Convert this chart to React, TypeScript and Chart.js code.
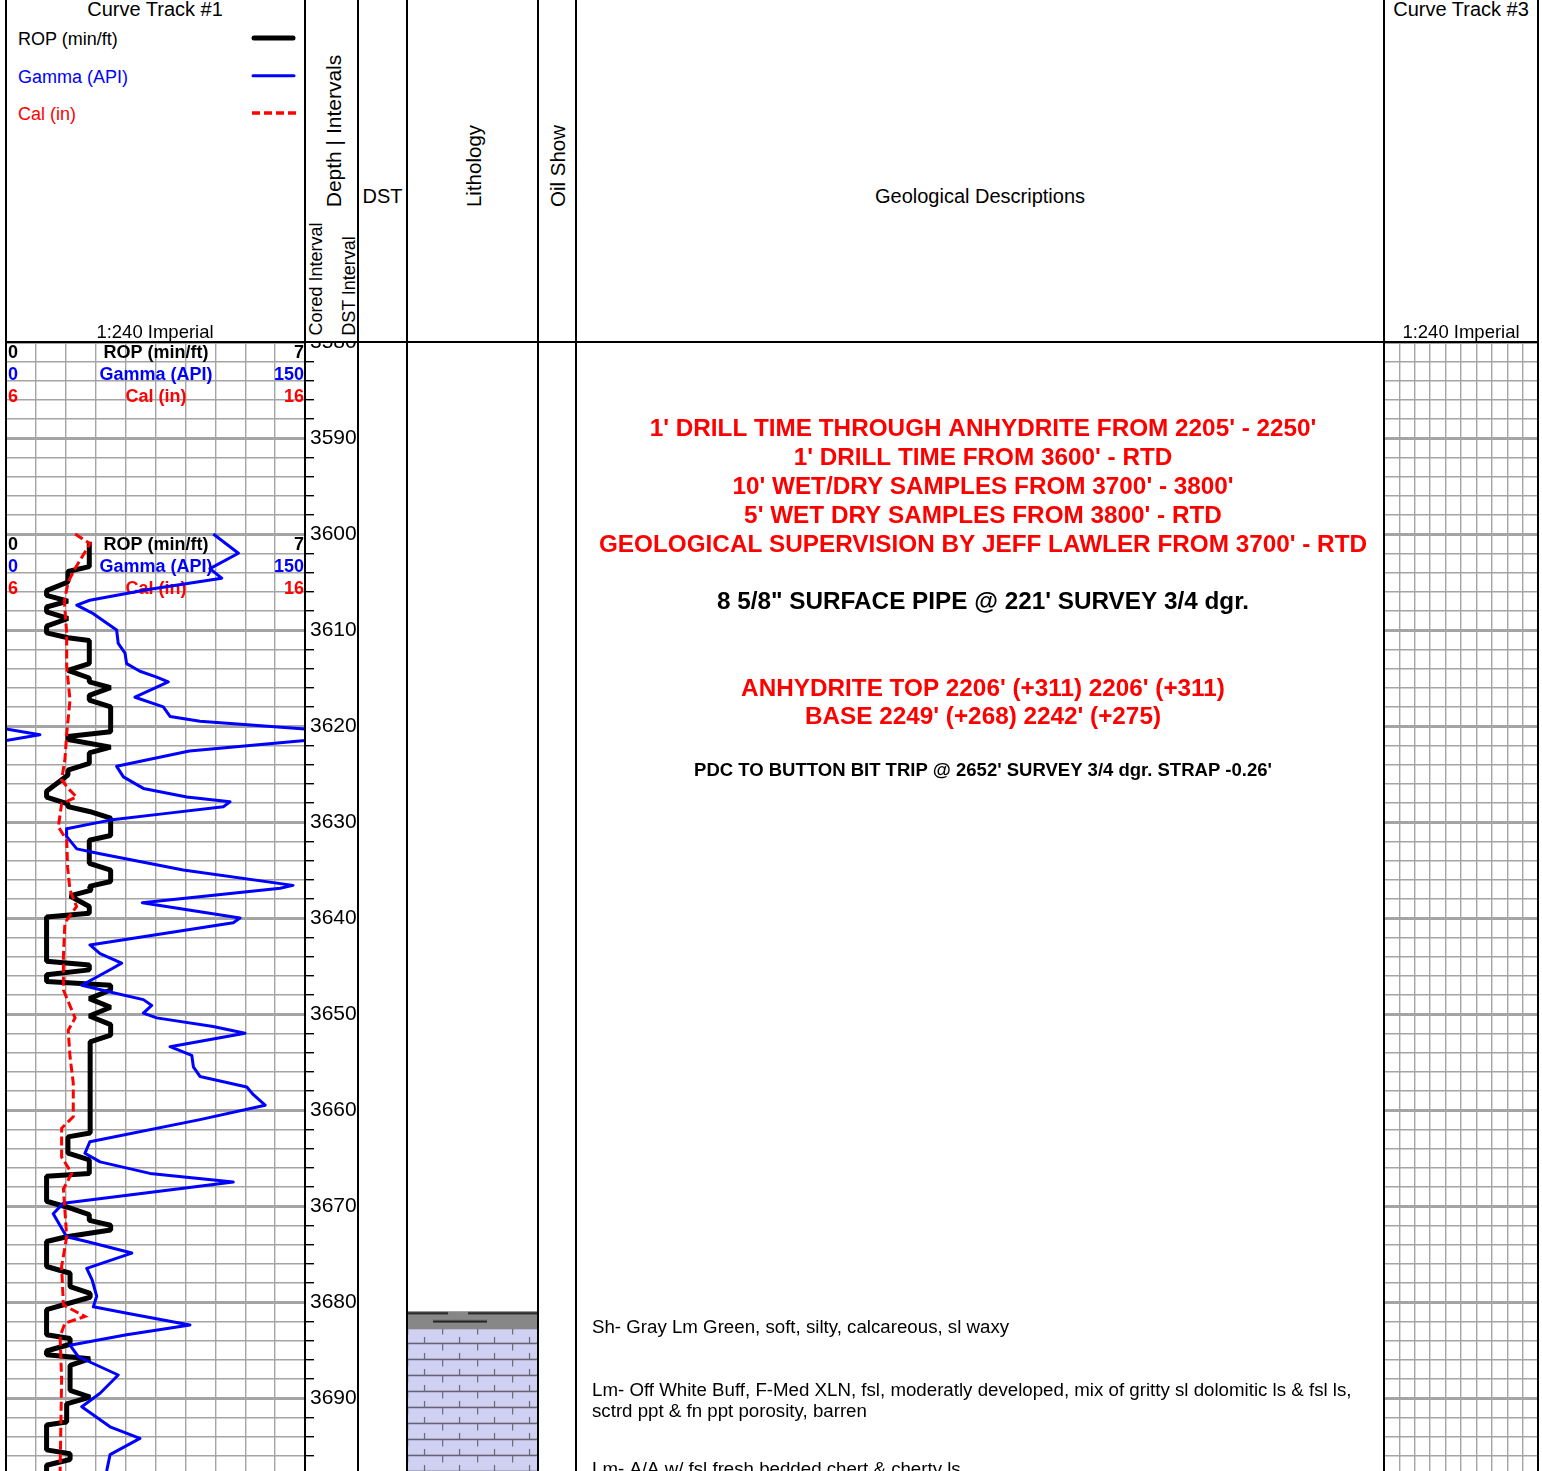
import React, { useEffect, useRef } from 'react';
import { Chart, registerables } from 'chart.js';

Chart.register(...registerables);

const FONT = '"Liberation Sans", Arial, Helvetica, sans-serif';

// ---------------- data ----------------
const depthTop = 3580;
const depthBottom = 3697.6;

const curveNames = ['ROP (min/ft)', 'Gamma (API)', 'Cal (in)'];
const curveMins = [0, 0, 6];
const curveMaxs = [7, 150, 16];
const scaleHeaderDepths = [3580, 3600];

// [depth ft, ROP min/ft]
const ropLog: number[][] = [
  [3600.8, 1.95], [3603.4, 1.95], [3603.9, 1.45], [3605.0, 1.45], [3605.9, 0.95], [3606.4, 0.95],
  [3607.0, 1.45], [3607.6, 0.95], [3608.1, 0.95], [3608.8, 1.45], [3609.6, 0.95], [3610.3, 0.95],
  [3610.8, 1.45], [3611.1, 1.95], [3613.5, 1.95], [3614.2, 1.45], [3615.0, 1.95], [3615.4, 1.95],
  [3616.0, 2.45], [3616.8, 1.95], [3617.3, 1.95], [3618.0, 2.45], [3620.6, 2.45], [3621.1, 1.45],
  [3621.4, 1.45], [3622.2, 2.45], [3622.8, 1.95], [3623.9, 1.95], [3624.6, 1.45], [3625.1, 1.45],
  [3626.8, 0.95], [3627.4, 0.95], [3628.1, 1.45], [3628.4, 1.45], [3628.9, 1.95], [3629.6, 2.45],
  [3631.4, 2.45], [3631.9, 1.95], [3634.3, 1.95], [3635.0, 2.45], [3636.2, 2.45], [3636.7, 1.95],
  [3637.1, 2.0], [3637.7, 1.5], [3638.8, 1.95], [3639.5, 1.95], [3639.9, 0.95], [3644.5, 0.95],
  [3644.9, 1.95], [3645.4, 1.95], [3645.9, 0.95], [3646.6, 0.95], [3647.0, 2.45], [3647.5, 2.45],
  [3648.4, 1.95], [3649.3, 2.45], [3650.2, 1.95], [3651.1, 2.45], [3652.2, 2.45], [3652.9, 1.97],
  [3662.4, 1.97], [3662.8, 1.45], [3664.5, 1.45], [3665.2, 1.95], [3666.6, 1.95], [3666.9, 0.95],
  [3669.5, 0.95], [3670.1, 1.42], [3670.9, 1.95], [3671.5, 1.95], [3672.0, 2.45], [3672.5, 2.45],
  [3673.2, 1.42], [3673.7, 0.95], [3676.3, 0.95], [3677.0, 1.5], [3678.4, 1.5], [3679.1, 1.97],
  [3679.5, 1.97], [3680.8, 0.95], [3683.4, 0.95], [3683.8, 1.5], [3684.4, 1.5], [3685.1, 0.95],
  [3685.5, 0.95], [3685.9, 1.97], [3686.6, 1.5], [3689.2, 1.5], [3689.9, 1.97], [3690.6, 1.42],
  [3692.5, 1.42], [3692.8, 0.95], [3695.4, 0.95], [3695.8, 1.5], [3696.4, 1.5], [3697.0, 0.95],
  [3698.0, 0.95],
];

// [depth ft, gamma API]
const gammaLog: number[][] = [
  [3600.0, 104], [3602.0, 116.6], [3603.6, 102.3], [3604.6, 108.2], [3605.8, 70.6], [3606.9, 42],
  [3607.4, 35.5], [3608.3, 43.8], [3610.0, 55.5], [3611.4, 56.3], [3612.4, 59.7], [3613.5, 60.5],
  [3614.3, 67.2], [3614.9, 75.6], [3615.4, 81.4], [3617.0, 64.7], [3618.0, 78.9], [3619.0, 82.3],
  [3619.5, 97.3], [3620.3, 150], [3620.9, 167], [3621.5, 150], [3622.6, 92], [3624.2, 55.5],
  [3625.3, 58.9], [3626.5, 68.9], [3627.4, 90.7], [3627.9, 112.4], [3628.4, 109], [3629.1, 80.6],
  [3629.8, 52.2], [3630.7, 30.4], [3631.5, 30.4], [3632.8, 35.5], [3633.3, 47.2], [3635.0, 88.9],
  [3636.6, 144], [3636.9, 137.5], [3638.4, 68.4], [3640.0, 117.4], [3640.5, 114], [3642.8, 42.1],
  [3643.7, 47.2], [3644.7, 58], [3645.2, 53.8], [3647.0, 38], [3647.7, 52.2], [3648.5, 68.9],
  [3649.1, 73.1], [3649.9, 68.9], [3650.4, 75.6], [3651.3, 103.9], [3652.0, 119.9], [3653.4, 82.3],
  [3654.3, 93.2], [3655.5, 94], [3656.5, 97.3], [3657.6, 120.8], [3658.4, 124.1], [3659.5, 130],
  [3661.0, 97.3], [3663.3, 42.1], [3664.5, 39.6], [3665.4, 47.2], [3666.6, 72.2], [3667.5, 114],
  [3669.7, 28.8], [3670.8, 23.7], [3673.2, 30.4], [3673.7, 40.5], [3674.9, 63.1], [3676.5, 40.5],
  [3677.7, 43.2], [3679.4, 45.5], [3680.5, 43.8], [3681.2, 61.4], [3682.4, 92.3], [3683.4, 60.5],
  [3684.5, 32.1], [3685.7, 36.3], [3687.6, 56.3], [3689.5, 47.2], [3690.9, 38], [3693.0, 52.2],
  [3694.2, 67.2], [3695.9, 52.2], [3697.6, 50.5],
];

// gamma excess above 150 API, wrapped back into the track
const gammaWrapLog: number[][] = [[3620.3, 0], [3620.9, 17], [3621.5, 0]];

// [depth ft, caliper in]
const calLog: number[][] = [
  [3600.0, 8.31], [3601.0, 8.81], [3603.6, 8.31], [3605.0, 8.08], [3607.0, 7.95], [3610.3, 8.03],
  [3613.8, 8.03], [3617.3, 8.14], [3620.8, 8.03], [3623.5, 7.97], [3625.6, 7.86], [3626.5, 8.08],
  [3627.4, 8.36], [3628.1, 7.86], [3630.5, 7.75], [3631.9, 8.03], [3634.7, 8.06], [3637.1, 8.14],
  [3638.8, 8.36], [3640.5, 7.97], [3644.0, 7.92], [3647.5, 7.92], [3650.4, 8.31], [3651.7, 8.08],
  [3654.4, 8.14], [3657.2, 8.25], [3660.7, 8.25], [3661.9, 7.86], [3664.9, 7.86], [3666.6, 8.2],
  [3668.2, 7.92], [3673.2, 8.03], [3676.3, 7.86], [3680.3, 7.92], [3681.5, 8.64], [3682.2, 7.97],
  [3683.6, 7.81], [3688.1, 7.86], [3697.6, 7.81],
];

const lithNames = ['Shale', 'Limestone'];
const lithTops = [3681, 3682.8];
const lithBases = [3682.8, 3700];

const remarkDepths = [3589.06, 3592.08, 3595.1, 3598.13, 3601.15, 3607.08, 3616.15, 3619.06, 3624.69];
const remarkTexts = [
  "1' DRILL TIME THROUGH ANHYDRITE FROM 2205' - 2250'",
  "1' DRILL TIME FROM 3600' - RTD",
  "10' WET/DRY SAMPLES FROM 3700' - 3800'",
  "5' WET DRY SAMPLES FROM 3800' - RTD",
  "GEOLOGICAL SUPERVISION BY JEFF LAWLER FROM 3700' - RTD",
  '8 5/8" SURFACE PIPE @ 221\' SURVEY 3/4 dgr.',
  "ANHYDRITE TOP 2206' (+311) 2206' (+311)",
  "BASE 2249' (+268) 2242' (+275)",
  "PDC TO BUTTON BIT TRIP @ 2652' SURVEY 3/4 dgr. STRAP -0.26'",
];
const remarkKinds = ['note', 'note', 'note', 'note', 'note', 'casing', 'top', 'top', 'trip'];

const descDepths = [3682.7, 3689.2, 3697.5];
const descTexts = [
  'Sh- Gray Lm Green, soft, silty, calcareous, sl waxy',
  'Lm- Off White Buff, F-Med XLN, fsl, moderatly developed, mix of gritty sl dolomitic ls & fsl ls,\nsctrd ppt & fn ppt porosity, barren',
  'Lm- A/A w/ fsl fresh bedded chert & cherty ls',
];

// ---------------- layout ----------------
const BODY_TOP = 342;
const PAD = 20;
const CANVAS_TOP = BODY_TOP - PAD;
const CANVAS_H = 1129 + PAD * 2;
const COLS = [6, 305, 358, 407, 538, 576, 1384, 1538];
const GRID = '#a4a4a4';
const curveColors = ['#000000', '#0000ff', '#ff0000'];

const remarkStyles: any = {
  note: { color: '#ff0000', size: 24.3 },
  casing: { color: '#000000', size: 24.3 },
  top: { color: '#ff0000', size: 24.3 },
  trip: { color: '#000000', size: 18.5 },
};

const toXY = (log: number[][]) => log.map((p) => ({ x: p[1], y: p[0] }));

function Label(props: any) {
  const { x, y, size, color = '#000', rotate = false, align = 'center', children } = props;
  return (
    <div
      style={{
        position: 'absolute',
        left: x,
        top: y,
        transform: `translate(${align === 'left' ? '0' : '-50%'}, -50%)${rotate ? ' rotate(-90deg)' : ''}`,
        fontSize: size,
        color,
        whiteSpace: 'nowrap',
        lineHeight: 1,
        fontFamily: FONT,
      }}
    >
      {children}
    </div>
  );
}

export default function App() {
  const trackRef = useRef<HTMLCanvasElement>(null);
  const lithRef = useRef<HTMLCanvasElement>(null);
  const descRef = useRef<HTMLCanvasElement>(null);
  const track3Ref = useRef<HTMLCanvasElement>(null);

  useEffect(() => {
    const charts: any[] = [];
    const isDecade = (c: any) => !!(c.tick && Math.round(c.tick.value) % 10 === 0);
    const gridLW = (c: any) => (isDecade(c) ? 3 : 1.4);

    const baseOpts = (scales: any) => ({
      animation: false,
      responsive: false,
      events: [],
      layout: { padding: { top: PAD, bottom: PAD, left: 0, right: 0 } },
      plugins: { legend: { display: false }, tooltip: { enabled: false } },
      scales,
    });

    const gridX = {
      type: 'linear',
      min: 0,
      max: 10,
      border: { display: false },
      grid: { color: GRID, lineWidth: 1.4, drawTicks: false },
      ticks: { display: false, stepSize: 1 },
    };
    const gridY = {
      type: 'linear',
      reverse: true,
      min: depthTop,
      max: depthBottom,
      border: { display: false },
      grid: { color: GRID, lineWidth: gridLW, drawTicks: false },
      ticks: { display: false, stepSize: 2, includeBounds: false },
    };
    const hiddenY = { type: 'linear', reverse: true, min: depthTop, max: depthBottom, display: false };

    // ---- curve track #1 + depth track ----
    const scaleHeaderPlugin = {
      id: 'scaleHeaders',
      beforeDatasetsDraw(chart: any) {
        const { ctx } = chart;
        const y = chart.scales.y;
        const offs = [1.2, 3.45, 5.7];
        ctx.save();
        ctx.font = `bold 18px ${FONT}`;
        ctx.textBaseline = 'middle';
        scaleHeaderDepths.forEach((d0) => {
          curveNames.forEach((name, i) => {
            const py = y.getPixelForValue(d0 + offs[i]);
            ctx.fillStyle = curveColors[i];
            ctx.textAlign = 'left';
            ctx.fillText(String(curveMins[i]), 2, py);
            ctx.textAlign = 'center';
            ctx.fillText(name, 150, py);
            ctx.textAlign = 'right';
            ctx.fillText(String(curveMaxs[i]), 298, py);
          });
        });
        ctx.restore();
      },
    };

    const lineDs = (log: number[][], axis: string, color: string, width: number, extra: any = {}) => ({
      data: toXY(log),
      xAxisID: axis,
      yAxisID: 'y',
      showLine: true,
      borderColor: color,
      backgroundColor: color,
      borderWidth: width,
      pointRadius: 0,
      fill: false,
      tension: 0,
      ...extra,
    });

    if (trackRef.current) {
      charts.push(
        new Chart(trackRef.current, {
          type: 'scatter',
          data: {
            datasets: [
              lineDs(calLog, 'xCal', '#ff0000', 3, { borderDash: [9, 4] }),
              lineDs(gammaLog, 'xGr', '#0000ff', 3, { borderJoinStyle: 'round' }),
              lineDs(gammaWrapLog, 'xGr', '#0000ff', 3, { borderJoinStyle: 'round' }),
              lineDs(ropLog, 'xRop', '#000000', 5, { borderJoinStyle: 'bevel' }),
            ],
          },
          options: baseOpts({
            x: gridX,
            xRop: { type: 'linear', min: curveMins[0], max: curveMaxs[0], display: false },
            xGr: { type: 'linear', min: curveMins[1], max: curveMaxs[1], display: false },
            xCal: { type: 'linear', min: curveMins[2], max: curveMaxs[2], display: false },
            y: {
              type: 'linear',
              position: 'right',
              reverse: true,
              min: depthTop,
              max: depthBottom,
              afterFit: (s: any) => {
                s.width = 53;
              },
              border: { display: false },
              grid: {
                color: GRID,
                lineWidth: gridLW,
                drawTicks: true,
                tickLength: 9,
                tickColor: (c: any) => (isDecade(c) ? 'rgba(0,0,0,0)' : '#000'),
                tickWidth: 1.4,
              },
              ticks: {
                stepSize: 2,
                includeBounds: false,
                autoSkip: false,
                maxRotation: 0,
                padding: -4,
                color: '#000',
                font: { family: FONT, size: 21 },
                callback: (v: any) => {
                  const n = Math.round(Number(v));
                  return n % 10 === 0 ? String(n) : '';
                },
              },
            },
          }) as any,
          plugins: [scaleHeaderPlugin],
        } as any)
      );
    }

    // ---- lithology ----
    const mk = (w: number, h: number) => {
      const c = document.createElement('canvas');
      c.width = w;
      c.height = h;
      return c;
    };
    const shaleTile = mk(131, 18);
    {
      const g = shaleTile.getContext('2d')!;
      g.fillStyle = '#878787';
      g.fillRect(0, 0, 131, 18);
      g.strokeStyle = '#1c1c1c';
      g.lineWidth = 2;
      g.beginPath();
      g.moveTo(0, 1.5);
      g.lineTo(41, 1.5);
      g.moveTo(61, 1.5);
      g.lineTo(131, 1.5);
      g.moveTo(26, 9.7);
      g.lineTo(80, 9.7);
      g.stroke();
    }
    const limeTile = mk(35, 16);
    {
      const g = limeTile.getContext('2d')!;
      g.fillStyle = '#d0d0f2';
      g.fillRect(0, 0, 35, 16);
      g.strokeStyle = '#5e5e6c';
      g.lineWidth = 1.5;
      g.beginPath();
      g.moveTo(0, 14.5);
      g.lineTo(35, 14.5);
      g.stroke();
      g.strokeStyle = '#6c6c7c';
      g.lineWidth = 1.2;
      g.beginPath();
      g.moveTo(17.5, 8);
      g.lineTo(17.5, 14.5);
      g.moveTo(0.6, 14.5);
      g.lineTo(0.6, 16);
      g.moveTo(0.6, 0);
      g.lineTo(0.6, 5.5);
      g.stroke();
    }

    if (lithRef.current) {
      const ctx = lithRef.current.getContext('2d')!;
      const patterns: any[] = [ctx.createPattern(shaleTile, 'repeat'), ctx.createPattern(limeTile, 'repeat')];
      const alignPlugin = {
        id: 'patternAlign',
        beforeDatasetsDraw(chart: any) {
          const y = chart.scales.y;
          patterns.forEach((p, i) => {
            if (p && p.setTransform) p.setTransform(new DOMMatrix([1, 0, 0, 1, 0, y.getPixelForValue(lithTops[i])]));
          });
        },
      };
      charts.push(
        new Chart(lithRef.current, {
          type: 'bar',
          data: {
            labels: ['lithology'],
            datasets: lithNames.map((n, i) => ({
              label: n,
              data: [[lithTops[i], lithBases[i]]],
              backgroundColor: patterns[i],
              borderWidth: 0,
              grouped: false,
              categoryPercentage: 1,
              barPercentage: 1,
            })),
          },
          options: baseOpts({ x: { display: false }, y: hiddenY }) as any,
          plugins: [alignPlugin],
        } as any)
      );
    }

    // ---- geological descriptions ----
    const descPlugin = {
      id: 'descText',
      afterDraw(chart: any) {
        const { ctx } = chart;
        const y = chart.scales.y;
        ctx.save();
        ctx.textBaseline = 'middle';
        remarkTexts.forEach((txt, i) => {
          const st = remarkStyles[remarkKinds[i]];
          ctx.font = `bold ${st.size}px ${FONT}`;
          ctx.fillStyle = st.color;
          ctx.textAlign = 'center';
          ctx.fillText(txt, 407, y.getPixelForValue(remarkDepths[i]));
        });
        ctx.font = `18.7px ${FONT}`;
        ctx.fillStyle = '#000';
        ctx.textAlign = 'left';
        descTexts.forEach((txt, i) => {
          const base = y.getPixelForValue(descDepths[i]);
          txt.split('\n').forEach((ln, j) => {
            ctx.fillText(ln, 16, base + j * 21);
          });
        });
        ctx.restore();
      },
    };
    if (descRef.current) {
      charts.push(
        new Chart(descRef.current, {
          type: 'scatter',
          data: { datasets: [] },
          options: baseOpts({ x: { type: 'linear', min: 0, max: 1, display: false }, y: hiddenY }) as any,
          plugins: [descPlugin],
        } as any)
      );
    }

    // ---- curve track #3 ----
    if (track3Ref.current) {
      charts.push(
        new Chart(track3Ref.current, {
          type: 'scatter',
          data: { datasets: [] },
          options: baseOpts({ x: gridX, y: gridY }) as any,
        } as any)
      );
    }

    return () => charts.forEach((c) => c.destroy());
  }, []);

  const canvasStyle = (left: number, width: number): any => ({
    position: 'absolute',
    left,
    top: CANVAS_TOP,
    width,
    height: CANVAS_H,
    display: 'block',
    zIndex: 1,
  });

  return (
    <div
      style={{
        position: 'absolute',
        left: 0,
        top: 0,
        width: 1542,
        height: 1471,
        overflow: 'hidden',
        background: '#fff',
        fontFamily: FONT,
      }}
    >
      <canvas ref={trackRef} width={COLS[2] - COLS[0]} height={CANVAS_H} style={canvasStyle(COLS[0], COLS[2] - COLS[0])} />
      <canvas ref={lithRef} width={COLS[4] - COLS[3]} height={CANVAS_H} style={canvasStyle(COLS[3], COLS[4] - COLS[3])} />
      <canvas ref={descRef} width={COLS[6] - COLS[5]} height={CANVAS_H} style={canvasStyle(COLS[5], COLS[6] - COLS[5])} />
      <canvas ref={track3Ref} width={COLS[7] - COLS[6]} height={CANVAS_H} style={canvasStyle(COLS[6], COLS[7] - COLS[6])} />

      {/* header */}
      <div style={{ position: 'absolute', left: 0, top: 0, width: 1542, height: 341, background: '#fff', zIndex: 2 }}>
        <Label x={155} y={9} size={20}>Curve Track #1</Label>
        <Label x={18} y={39} size={18} align="left">ROP (min/ft)</Label>
        <Label x={18} y={76.5} size={18} align="left" color="#0000ff">Gamma (API)</Label>
        <Label x={18} y={114} size={18} align="left" color="#ff0000">Cal (in)</Label>
        <Label x={155} y={332} size={18.5}>1:240 Imperial</Label>
        <Label x={333} y={131} size={21} rotate>Depth | Intervals</Label>
        <Label x={316} y={279} size={18} rotate>Cored Interval</Label>
        <Label x={349} y={286} size={18} rotate>DST Interval</Label>
        <Label x={382.5} y={196} size={20}>DST</Label>
        <Label x={474} y={166} size={20.5} rotate>Lithology</Label>
        <Label x={557.5} y={166} size={20.5} rotate>Oil Show</Label>
        <Label x={980} y={196} size={20}>Geological Descriptions</Label>
        <Label x={1461} y={9} size={20}>Curve Track #3</Label>
        <Label x={1461} y={332} size={18.5}>1:240 Imperial</Label>
        <svg width={1542} height={341} style={{ position: 'absolute', left: 0, top: 0 }}>
          <line x1={254} y1={38} x2={293} y2={38} stroke="#000" strokeWidth={5} strokeLinecap="round" />
          <line x1={253} y1={75.7} x2={294} y2={75.7} stroke="#0000ff" strokeWidth={3} strokeLinecap="round" />
          <line x1={252} y1={113} x2={296} y2={113} stroke="#ff0000" strokeWidth={3.5} strokeDasharray="8 4" />
        </svg>
      </div>

      {/* borders */}
      {COLS.map((x) => (
        <div key={x} style={{ position: 'absolute', left: x - 1, top: 0, width: 2, height: 1471, background: '#000', zIndex: 3 }} />
      ))}
      <div style={{ position: 'absolute', left: COLS[0] - 1, top: BODY_TOP - 1, width: COLS[7] - COLS[0] + 2, height: 2, background: '#000', zIndex: 3 }} />
    </div>
  );
}
